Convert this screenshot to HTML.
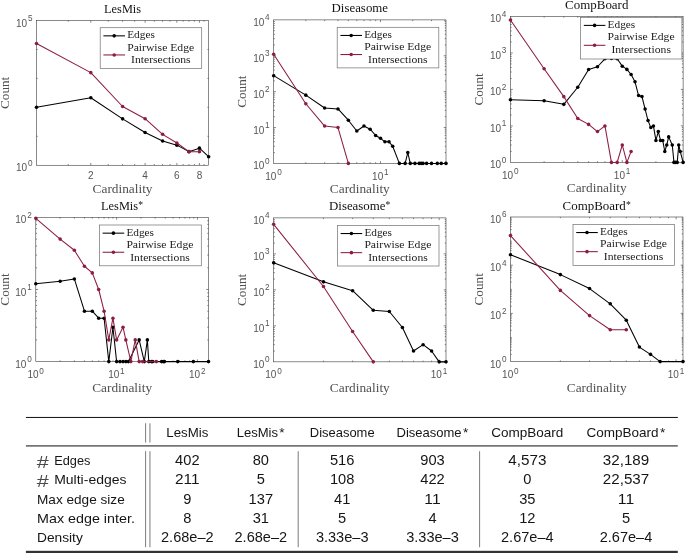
<!DOCTYPE html>
<html><head><meta charset="utf-8"><title>Figure</title>
<style>html,body{margin:0;padding:0;background:#fff}svg{display:block;will-change:transform}</style></head>
<body>
<svg width="685" height="553" viewBox="0 0 685 553">
<style>
text{font-family:"Liberation Sans",sans-serif}
.tk{font-size:10px;fill:#555}
.sp{font-size:8.2px;fill:#555}
.lg text,.tt,.ts,.al{font-family:"Liberation Serif",serif}
.lg text{font-size:11.3px;fill:#1a1a1a}
.tt{font-size:12.3px;fill:#111}
.ts{font-size:9.6px;fill:#111}
.al{font-size:12.3px;fill:#505050}
.tb{font-size:13.6px;fill:#151515}
.tn{font-size:14px;fill:#151515}
.tbs{font-size:9px;fill:#151515}
</style>
<rect width="685" height="553" fill="#fff"/>
<path d="M68.27 165.25v-1.25M68.27 20.50v1.25M90.81 165.25v-2.3M90.81 20.50v2.3M108.29 165.25v-1.25M108.29 20.50v1.25M122.58 165.25v-1.25M122.58 20.50v1.25M134.65 165.25v-1.25M134.65 20.50v1.25M145.11 165.25v-2.3M145.11 20.50v2.3M154.34 165.25v-1.25M154.34 20.50v1.25M162.60 165.25v-1.25M162.60 20.50v1.25M170.07 165.25v-1.25M170.07 20.50v1.25M176.88 165.25v-2.3M176.88 20.50v2.3M183.15 165.25v-1.25M183.15 20.50v1.25M188.96 165.25v-1.25M188.96 20.50v1.25M194.37 165.25v-1.25M194.37 20.50v1.25M199.42 165.25v-2.3M199.42 20.50v2.3M204.17 165.25v-1.25M204.17 20.50v1.25M36.50 136.30h1.25M208.65 136.30h-1.25M36.50 107.35h1.25M208.65 107.35h-1.25M36.50 78.40h1.25M208.65 78.40h-1.25M36.50 49.45h1.25M208.65 49.45h-1.25" stroke="#2a2a2a" stroke-width="0.55" fill="none"/>
<rect x="36.50" y="20.50" width="172.15" height="144.75" fill="none" stroke="#2a2a2a" stroke-width="0.55"/>
<polyline points="36.50,107.35 90.81,97.78 122.58,118.87 145.11,132.43 162.60,140.97 176.88,145.14 188.96,151.65 199.42,148.14 208.65,156.66" fill="none" stroke="#000" stroke-width="1.05" stroke-linejoin="round"/>
<g fill="#000"><circle cx="36.50" cy="107.35" r="1.78"/><circle cx="90.81" cy="97.78" r="1.78"/><circle cx="122.58" cy="118.87" r="1.78"/><circle cx="145.11" cy="132.43" r="1.78"/><circle cx="162.60" cy="140.97" r="1.78"/><circle cx="176.88" cy="145.14" r="1.78"/><circle cx="188.96" cy="151.65" r="1.78"/><circle cx="199.42" cy="148.14" r="1.78"/><circle cx="208.65" cy="156.66" r="1.78"/></g>
<polyline points="36.50,43.54 90.81,72.65 122.58,106.50 145.11,118.71 162.60,134.33 176.88,143.04 188.96,151.65 199.42,151.65" fill="none" stroke="#8c1d40" stroke-width="1.05" stroke-linejoin="round"/>
<g fill="#8c1d40"><circle cx="36.50" cy="43.54" r="1.78"/><circle cx="90.81" cy="72.65" r="1.78"/><circle cx="122.58" cy="106.50" r="1.78"/><circle cx="145.11" cy="118.71" r="1.78"/><circle cx="162.60" cy="134.33" r="1.78"/><circle cx="176.88" cy="143.04" r="1.78"/><circle cx="188.96" cy="151.65" r="1.78"/><circle cx="199.42" cy="151.65" r="1.78"/></g>
<rect x="100.20" y="27.70" width="101.50" height="40.70" fill="#fff" stroke="#707070" stroke-width="0.7"/>
<path d="M103.40 35.85h21.6" stroke="#000" stroke-width="1.05"/><circle cx="114.20" cy="35.85" r="1.78" fill="#000"/>
<path d="M103.40 54.95h21.6" stroke="#8c1d40" stroke-width="1.05"/><circle cx="114.20" cy="54.95" r="1.78" fill="#8c1d40"/>
<g class="lg"><text x="127.20" y="38.30" textLength="27.6" lengthAdjust="spacingAndGlyphs">Edges</text><text x="127.20" y="50.70" textLength="67" lengthAdjust="spacingAndGlyphs">Pairwise Edge</text><text x="131.00" y="63.30" textLength="59.6" lengthAdjust="spacingAndGlyphs">Intersections</text></g>
<text class="tk" x="27.10" y="171.25" text-anchor="end">10</text><text class="sp" x="27.90" y="165.65">0</text>
<text class="tk" x="27.10" y="26.50" text-anchor="end">10</text><text class="sp" x="27.90" y="20.90">5</text>
<text class="tk" x="90.81" y="178.95" text-anchor="middle">2</text>
<text class="tk" x="145.11" y="178.95" text-anchor="middle">4</text>
<text class="tk" x="176.88" y="178.95" text-anchor="middle">6</text>
<text class="tk" x="199.42" y="178.95" text-anchor="middle">8</text>
<text class="tt" x="104.08" y="13.10" textLength="37" lengthAdjust="spacingAndGlyphs">LesMis</text>
<text class="al" x="92.62" y="192.80" textLength="59.9" lengthAdjust="spacingAndGlyphs">Cardinality</text>
<text class="al" transform="translate(8.50 109.03) rotate(-90)" textLength="32.3" lengthAdjust="spacingAndGlyphs">Count</text>
<path d="M305.82 163.40v-1.25M305.82 19.90v1.25M324.64 163.40v-1.25M324.64 19.90v1.25M337.99 163.40v-1.25M337.99 19.90v1.25M348.35 163.40v-1.25M348.35 19.90v1.25M356.81 163.40v-1.25M356.81 19.90v1.25M363.96 163.40v-1.25M363.96 19.90v1.25M370.16 163.40v-1.25M370.16 19.90v1.25M375.63 163.40v-1.25M375.63 19.90v1.25M380.51 163.40v-2.3M380.51 19.90v2.3M412.68 163.40v-1.25M412.68 19.90v1.25M431.50 163.40v-1.25M431.50 19.90v1.25M444.85 163.40v-1.25M444.85 19.90v1.25M273.65 152.60h1.25M446.00 152.60h-1.25M273.65 146.28h1.25M446.00 146.28h-1.25M273.65 141.80h1.25M446.00 141.80h-1.25M273.65 138.32h1.25M446.00 138.32h-1.25M273.65 135.48h1.25M446.00 135.48h-1.25M273.65 133.08h1.25M446.00 133.08h-1.25M273.65 131.00h1.25M446.00 131.00h-1.25M273.65 129.17h1.25M446.00 129.17h-1.25M273.65 127.53h2.3M446.00 127.53h-2.3M273.65 116.73h1.25M446.00 116.73h-1.25M273.65 110.41h1.25M446.00 110.41h-1.25M273.65 105.93h1.25M446.00 105.93h-1.25M273.65 102.45h1.25M446.00 102.45h-1.25M273.65 99.61h1.25M446.00 99.61h-1.25M273.65 97.21h1.25M446.00 97.21h-1.25M273.65 95.13h1.25M446.00 95.13h-1.25M273.65 93.29h1.25M446.00 93.29h-1.25M273.65 91.65h2.3M446.00 91.65h-2.3M273.65 80.85h1.25M446.00 80.85h-1.25M273.65 74.53h1.25M446.00 74.53h-1.25M273.65 70.05h1.25M446.00 70.05h-1.25M273.65 66.57h1.25M446.00 66.57h-1.25M273.65 63.73h1.25M446.00 63.73h-1.25M273.65 61.33h1.25M446.00 61.33h-1.25M273.65 59.25h1.25M446.00 59.25h-1.25M273.65 57.42h1.25M446.00 57.42h-1.25M273.65 55.78h2.3M446.00 55.78h-2.3M273.65 44.98h1.25M446.00 44.98h-1.25M273.65 38.66h1.25M446.00 38.66h-1.25M273.65 34.18h1.25M446.00 34.18h-1.25M273.65 30.70h1.25M446.00 30.70h-1.25M273.65 27.86h1.25M446.00 27.86h-1.25M273.65 25.46h1.25M446.00 25.46h-1.25M273.65 23.38h1.25M446.00 23.38h-1.25M273.65 21.54h1.25M446.00 21.54h-1.25" stroke="#2a2a2a" stroke-width="0.55" fill="none"/>
<rect x="273.65" y="19.90" width="172.35" height="143.50" fill="none" stroke="#2a2a2a" stroke-width="0.55"/>
<polyline points="273.65,75.66 305.82,95.13 324.64,108.01 337.99,108.92 348.35,120.20 356.81,131.00 363.96,126.04 370.16,129.17 375.63,135.48 380.51,138.32 384.94,141.80 388.98,141.80 392.69,146.28 399.33,163.40 405.14,163.40 407.79,152.60 410.30,163.40 414.95,163.40 419.17,163.40 421.15,163.40 423.04,163.40 426.61,163.40 431.50,163.40 437.31,163.40 441.24,163.40 446.00,163.40" fill="none" stroke="#000" stroke-width="1.05" stroke-linejoin="round"/>
<g fill="#000"><circle cx="273.65" cy="75.66" r="1.78"/><circle cx="305.82" cy="95.13" r="1.78"/><circle cx="324.64" cy="108.01" r="1.78"/><circle cx="337.99" cy="108.92" r="1.78"/><circle cx="348.35" cy="120.20" r="1.78"/><circle cx="356.81" cy="131.00" r="1.78"/><circle cx="363.96" cy="126.04" r="1.78"/><circle cx="370.16" cy="129.17" r="1.78"/><circle cx="375.63" cy="135.48" r="1.78"/><circle cx="380.51" cy="138.32" r="1.78"/><circle cx="384.94" cy="141.80" r="1.78"/><circle cx="388.98" cy="141.80" r="1.78"/><circle cx="392.69" cy="146.28" r="1.78"/><circle cx="399.33" cy="163.40" r="1.78"/><circle cx="405.14" cy="163.40" r="1.78"/><circle cx="407.79" cy="152.60" r="1.78"/><circle cx="410.30" cy="163.40" r="1.78"/><circle cx="414.95" cy="163.40" r="1.78"/><circle cx="419.17" cy="163.40" r="1.78"/><circle cx="421.15" cy="163.40" r="1.78"/><circle cx="423.04" cy="163.40" r="1.78"/><circle cx="426.61" cy="163.40" r="1.78"/><circle cx="431.50" cy="163.40" r="1.78"/><circle cx="437.31" cy="163.40" r="1.78"/><circle cx="441.24" cy="163.40" r="1.78"/><circle cx="446.00" cy="163.40" r="1.78"/></g>
<polyline points="273.65,54.29 305.82,103.75 324.64,126.04 337.99,127.53 348.35,163.40" fill="none" stroke="#8c1d40" stroke-width="1.05" stroke-linejoin="round"/>
<g fill="#8c1d40"><circle cx="273.65" cy="54.29" r="1.78"/><circle cx="305.82" cy="103.75" r="1.78"/><circle cx="324.64" cy="126.04" r="1.78"/><circle cx="337.99" cy="127.53" r="1.78"/><circle cx="348.35" cy="163.40" r="1.78"/></g>
<rect x="337.20" y="27.30" width="101.60" height="40.60" fill="#fff" stroke="#707070" stroke-width="0.7"/>
<path d="M340.40 35.45h21.6" stroke="#000" stroke-width="1.05"/><circle cx="351.20" cy="35.45" r="1.78" fill="#000"/>
<path d="M340.40 54.55h21.6" stroke="#8c1d40" stroke-width="1.05"/><circle cx="351.20" cy="54.55" r="1.78" fill="#8c1d40"/>
<g class="lg"><text x="364.20" y="37.90" textLength="27.6" lengthAdjust="spacingAndGlyphs">Edges</text><text x="364.20" y="50.30" textLength="67" lengthAdjust="spacingAndGlyphs">Pairwise Edge</text><text x="368.00" y="62.90" textLength="59.6" lengthAdjust="spacingAndGlyphs">Intersections</text></g>
<text class="tk" x="264.25" y="169.40" text-anchor="end">10</text><text class="sp" x="265.05" y="163.80">0</text>
<text class="tk" x="264.25" y="133.53" text-anchor="end">10</text><text class="sp" x="265.05" y="127.93">1</text>
<text class="tk" x="264.25" y="97.65" text-anchor="end">10</text><text class="sp" x="265.05" y="92.05">2</text>
<text class="tk" x="264.25" y="61.78" text-anchor="end">10</text><text class="sp" x="265.05" y="56.18">3</text>
<text class="tk" x="264.25" y="25.90" text-anchor="end">10</text><text class="sp" x="265.05" y="20.30">4</text>
<text class="tk" x="265.25" y="180.00">10</text><text class="sp" x="277.15" y="175.40">0</text>
<text class="tk" x="372.11" y="180.00">10</text><text class="sp" x="384.01" y="175.40">1</text>
<text class="tt" x="331.57" y="12.40" textLength="56.5" lengthAdjust="spacingAndGlyphs">Diseasome</text>
<text class="al" x="329.88" y="193.30" textLength="59.9" lengthAdjust="spacingAndGlyphs">Cardinality</text>
<text class="al" transform="translate(245.50 107.80) rotate(-90)" textLength="32.3" lengthAdjust="spacingAndGlyphs">Count</text>
<path d="M544.11 162.40v-1.25M544.11 16.45v1.25M563.80 162.40v-1.25M563.80 16.45v1.25M577.77 162.40v-1.25M577.77 16.45v1.25M588.61 162.40v-1.25M588.61 16.45v1.25M597.46 162.40v-1.25M597.46 16.45v1.25M604.94 162.40v-1.25M604.94 16.45v1.25M611.43 162.40v-1.25M611.43 16.45v1.25M617.15 162.40v-1.25M617.15 16.45v1.25M622.27 162.40v-2.3M622.27 16.45v2.3M655.92 162.40v-1.25M655.92 16.45v1.25M675.61 162.40v-1.25M675.61 16.45v1.25M510.45 151.42h1.25M683.10 151.42h-1.25M510.45 144.99h1.25M683.10 144.99h-1.25M510.45 140.43h1.25M683.10 140.43h-1.25M510.45 136.90h1.25M683.10 136.90h-1.25M510.45 134.01h1.25M683.10 134.01h-1.25M510.45 131.56h1.25M683.10 131.56h-1.25M510.45 129.45h1.25M683.10 129.45h-1.25M510.45 127.58h1.25M683.10 127.58h-1.25M510.45 125.91h2.3M683.10 125.91h-2.3M510.45 114.93h1.25M683.10 114.93h-1.25M510.45 108.50h1.25M683.10 108.50h-1.25M510.45 103.94h1.25M683.10 103.94h-1.25M510.45 100.41h1.25M683.10 100.41h-1.25M510.45 97.52h1.25M683.10 97.52h-1.25M510.45 95.08h1.25M683.10 95.08h-1.25M510.45 92.96h1.25M683.10 92.96h-1.25M510.45 91.09h1.25M683.10 91.09h-1.25M510.45 89.42h2.3M683.10 89.42h-2.3M510.45 78.44h1.25M683.10 78.44h-1.25M510.45 72.02h1.25M683.10 72.02h-1.25M510.45 67.46h1.25M683.10 67.46h-1.25M510.45 63.92h1.25M683.10 63.92h-1.25M510.45 61.03h1.25M683.10 61.03h-1.25M510.45 58.59h1.25M683.10 58.59h-1.25M510.45 56.47h1.25M683.10 56.47h-1.25M510.45 54.61h1.25M683.10 54.61h-1.25M510.45 52.94h2.3M683.10 52.94h-2.3M510.45 41.95h1.25M683.10 41.95h-1.25M510.45 35.53h1.25M683.10 35.53h-1.25M510.45 30.97h1.25M683.10 30.97h-1.25M510.45 27.43h1.25M683.10 27.43h-1.25M510.45 24.54h1.25M683.10 24.54h-1.25M510.45 22.10h1.25M683.10 22.10h-1.25M510.45 19.99h1.25M683.10 19.99h-1.25M510.45 18.12h1.25M683.10 18.12h-1.25" stroke="#2a2a2a" stroke-width="0.55" fill="none"/>
<rect x="510.45" y="16.45" width="172.65" height="145.95" fill="none" stroke="#2a2a2a" stroke-width="0.55"/>
<polyline points="510.45,99.79 544.11,100.73 563.80,104.35 577.77,87.21 588.61,69.57 597.46,66.76 604.94,58.82 611.43,58.59 617.15,58.82 622.27,66.16 626.89,69.39 631.12,74.53 635.01,81.78 638.60,95.54 641.95,96.50 645.09,109.04 648.03,120.58 650.81,127.58 653.43,125.91 655.92,140.43 658.29,131.56 660.55,140.43 662.71,140.43 664.78,151.42 666.76,144.99 668.67,136.90 672.26,144.99 673.97,162.40 675.61,162.40 677.21,162.40 678.75,144.99 680.24,151.42 683.10,162.40" fill="none" stroke="#000" stroke-width="1.05" stroke-linejoin="round"/>
<g fill="#000"><circle cx="510.45" cy="99.79" r="1.78"/><circle cx="544.11" cy="100.73" r="1.78"/><circle cx="563.80" cy="104.35" r="1.78"/><circle cx="577.77" cy="87.21" r="1.78"/><circle cx="588.61" cy="69.57" r="1.78"/><circle cx="597.46" cy="66.76" r="1.78"/><circle cx="604.94" cy="58.82" r="1.78"/><circle cx="611.43" cy="58.59" r="1.78"/><circle cx="617.15" cy="58.82" r="1.78"/><circle cx="622.27" cy="66.16" r="1.78"/><circle cx="626.89" cy="69.39" r="1.78"/><circle cx="631.12" cy="74.53" r="1.78"/><circle cx="635.01" cy="81.78" r="1.78"/><circle cx="638.60" cy="95.54" r="1.78"/><circle cx="641.95" cy="96.50" r="1.78"/><circle cx="645.09" cy="109.04" r="1.78"/><circle cx="648.03" cy="120.58" r="1.78"/><circle cx="650.81" cy="127.58" r="1.78"/><circle cx="653.43" cy="125.91" r="1.78"/><circle cx="655.92" cy="140.43" r="1.78"/><circle cx="658.29" cy="131.56" r="1.78"/><circle cx="660.55" cy="140.43" r="1.78"/><circle cx="662.71" cy="140.43" r="1.78"/><circle cx="664.78" cy="151.42" r="1.78"/><circle cx="666.76" cy="144.99" r="1.78"/><circle cx="668.67" cy="136.90" r="1.78"/><circle cx="672.26" cy="144.99" r="1.78"/><circle cx="673.97" cy="162.40" r="1.78"/><circle cx="675.61" cy="162.40" r="1.78"/><circle cx="677.21" cy="162.40" r="1.78"/><circle cx="678.75" cy="144.99" r="1.78"/><circle cx="680.24" cy="151.42" r="1.78"/><circle cx="683.10" cy="162.40" r="1.78"/></g>
<polyline points="510.45,19.99 544.11,68.78 563.80,96.65 577.77,118.46 588.61,124.40 597.46,131.56 604.94,125.91 611.43,162.40 617.15,162.40 622.27,144.99 626.89,162.40 631.12,151.42" fill="none" stroke="#8c1d40" stroke-width="1.05" stroke-linejoin="round"/>
<g fill="#8c1d40"><circle cx="510.45" cy="19.99" r="1.78"/><circle cx="544.11" cy="68.78" r="1.78"/><circle cx="563.80" cy="96.65" r="1.78"/><circle cx="577.77" cy="118.46" r="1.78"/><circle cx="588.61" cy="124.40" r="1.78"/><circle cx="597.46" cy="131.56" r="1.78"/><circle cx="604.94" cy="125.91" r="1.78"/><circle cx="611.43" cy="162.40" r="1.78"/><circle cx="617.15" cy="162.40" r="1.78"/><circle cx="622.27" cy="144.99" r="1.78"/><circle cx="626.89" cy="162.40" r="1.78"/><circle cx="631.12" cy="151.42" r="1.78"/></g>
<rect x="580.60" y="17.40" width="101.30" height="41.60" fill="#fff" stroke="#707070" stroke-width="0.7"/>
<path d="M583.80 25.40h21.6" stroke="#000" stroke-width="1.05"/><circle cx="594.60" cy="25.40" r="1.78" fill="#000"/>
<path d="M583.80 45.30h21.6" stroke="#8c1d40" stroke-width="1.05"/><circle cx="594.60" cy="45.30" r="1.78" fill="#8c1d40"/>
<g class="lg"><text x="607.60" y="28.20" textLength="27.6" lengthAdjust="spacingAndGlyphs">Edges</text><text x="607.60" y="40.00" textLength="67" lengthAdjust="spacingAndGlyphs">Pairwise Edge</text><text x="611.40" y="53.10" textLength="59.6" lengthAdjust="spacingAndGlyphs">Intersections</text></g>
<text class="tk" x="501.05" y="168.40" text-anchor="end">10</text><text class="sp" x="501.85" y="162.80">0</text>
<text class="tk" x="501.05" y="131.91" text-anchor="end">10</text><text class="sp" x="501.85" y="126.31">1</text>
<text class="tk" x="501.05" y="95.42" text-anchor="end">10</text><text class="sp" x="501.85" y="89.83">2</text>
<text class="tk" x="501.05" y="58.94" text-anchor="end">10</text><text class="sp" x="501.85" y="53.34">3</text>
<text class="tk" x="501.05" y="22.45" text-anchor="end">10</text><text class="sp" x="501.85" y="16.85">4</text>
<text class="tk" x="502.05" y="179.00">10</text><text class="sp" x="513.95" y="174.40">0</text>
<text class="tk" x="613.87" y="179.00">10</text><text class="sp" x="625.77" y="174.40">1</text>
<text class="tt" x="565.12" y="9.40" textLength="63.3" lengthAdjust="spacingAndGlyphs">CompBoard</text>
<text class="al" x="566.82" y="192.30" textLength="59.9" lengthAdjust="spacingAndGlyphs">Cardinality</text>
<text class="al" transform="translate(482.50 105.57) rotate(-90)" textLength="32.3" lengthAdjust="spacingAndGlyphs">Count</text>
<path d="M60.13 361.60v-1.25M60.13 217.40v1.25M74.36 361.60v-1.25M74.36 217.40v1.25M84.46 361.60v-1.25M84.46 217.40v1.25M92.29 361.60v-1.25M92.29 217.40v1.25M98.69 361.60v-1.25M98.69 217.40v1.25M104.10 361.60v-1.25M104.10 217.40v1.25M108.79 361.60v-1.25M108.79 217.40v1.25M112.93 361.60v-1.25M112.93 217.40v1.25M116.62 361.60v-2.3M116.62 217.40v2.3M140.96 361.60v-1.25M140.96 217.40v1.25M155.19 361.60v-1.25M155.19 217.40v1.25M165.29 361.60v-1.25M165.29 217.40v1.25M173.12 361.60v-1.25M173.12 217.40v1.25M179.52 361.60v-1.25M179.52 217.40v1.25M184.93 361.60v-1.25M184.93 217.40v1.25M189.62 361.60v-1.25M189.62 217.40v1.25M193.75 361.60v-1.25M193.75 217.40v1.25M197.45 361.60v-2.3M197.45 217.40v2.3M35.80 339.90h1.25M208.50 339.90h-1.25M35.80 327.20h1.25M208.50 327.20h-1.25M35.80 318.19h1.25M208.50 318.19h-1.25M35.80 311.20h1.25M208.50 311.20h-1.25M35.80 305.50h1.25M208.50 305.50h-1.25M35.80 300.67h1.25M208.50 300.67h-1.25M35.80 296.49h1.25M208.50 296.49h-1.25M35.80 292.80h1.25M208.50 292.80h-1.25M35.80 289.50h2.3M208.50 289.50h-2.3M35.80 267.80h1.25M208.50 267.80h-1.25M35.80 255.10h1.25M208.50 255.10h-1.25M35.80 246.09h1.25M208.50 246.09h-1.25M35.80 239.10h1.25M208.50 239.10h-1.25M35.80 233.40h1.25M208.50 233.40h-1.25M35.80 228.57h1.25M208.50 228.57h-1.25M35.80 224.39h1.25M208.50 224.39h-1.25M35.80 220.70h1.25M208.50 220.70h-1.25" stroke="#2a2a2a" stroke-width="0.55" fill="none"/>
<rect x="35.80" y="217.40" width="172.70" height="144.20" fill="none" stroke="#2a2a2a" stroke-width="0.55"/>
<polyline points="35.80,283.79 60.13,281.28 74.36,278.96 84.46,311.20 92.29,311.20 98.69,318.19 104.10,318.19 108.79,361.60 112.93,327.20 116.62,361.60 119.97,361.60 123.02,361.60 125.83,361.60 128.44,361.60 139.15,339.90 144.30,361.60 147.36,339.90 148.79,361.60 151.49,361.60 152.77,361.60 161.59,361.60 163.49,361.60 164.40,361.60 177.72,361.60 193.36,361.60 208.50,361.60" fill="none" stroke="#000" stroke-width="1.05" stroke-linejoin="round"/>
<g fill="#000"><circle cx="35.80" cy="283.79" r="1.78"/><circle cx="60.13" cy="281.28" r="1.78"/><circle cx="74.36" cy="278.96" r="1.78"/><circle cx="84.46" cy="311.20" r="1.78"/><circle cx="92.29" cy="311.20" r="1.78"/><circle cx="98.69" cy="318.19" r="1.78"/><circle cx="104.10" cy="318.19" r="1.78"/><circle cx="108.79" cy="361.60" r="1.78"/><circle cx="112.93" cy="327.20" r="1.78"/><circle cx="116.62" cy="361.60" r="1.78"/><circle cx="119.97" cy="361.60" r="1.78"/><circle cx="123.02" cy="361.60" r="1.78"/><circle cx="125.83" cy="361.60" r="1.78"/><circle cx="128.44" cy="361.60" r="1.78"/><circle cx="139.15" cy="339.90" r="1.78"/><circle cx="144.30" cy="361.60" r="1.78"/><circle cx="147.36" cy="339.90" r="1.78"/><circle cx="148.79" cy="361.60" r="1.78"/><circle cx="151.49" cy="361.60" r="1.78"/><circle cx="152.77" cy="361.60" r="1.78"/><circle cx="161.59" cy="361.60" r="1.78"/><circle cx="163.49" cy="361.60" r="1.78"/><circle cx="164.40" cy="361.60" r="1.78"/><circle cx="177.72" cy="361.60" r="1.78"/><circle cx="193.36" cy="361.60" r="1.78"/><circle cx="208.50" cy="361.60" r="1.78"/></g>
<polyline points="35.80,218.35 60.13,239.10 74.36,250.27 84.46,266.27 92.29,272.88 98.69,289.50 104.10,311.20 108.79,339.90 112.93,318.19 116.62,339.90 123.02,327.20 125.83,339.90 130.86,361.60 135.25,339.90 139.15,361.60 142.67,361.60 156.34,361.60" fill="none" stroke="#8c1d40" stroke-width="1.05" stroke-linejoin="round"/>
<g fill="#8c1d40"><circle cx="35.80" cy="218.35" r="1.78"/><circle cx="60.13" cy="239.10" r="1.78"/><circle cx="74.36" cy="250.27" r="1.78"/><circle cx="84.46" cy="266.27" r="1.78"/><circle cx="92.29" cy="272.88" r="1.78"/><circle cx="98.69" cy="289.50" r="1.78"/><circle cx="104.10" cy="311.20" r="1.78"/><circle cx="108.79" cy="339.90" r="1.78"/><circle cx="112.93" cy="318.19" r="1.78"/><circle cx="116.62" cy="339.90" r="1.78"/><circle cx="123.02" cy="327.20" r="1.78"/><circle cx="125.83" cy="339.90" r="1.78"/><circle cx="130.86" cy="361.60" r="1.78"/><circle cx="135.25" cy="339.90" r="1.78"/><circle cx="139.15" cy="361.60" r="1.78"/><circle cx="142.67" cy="361.60" r="1.78"/><circle cx="156.34" cy="361.60" r="1.78"/></g>
<rect x="99.40" y="225.00" width="101.90" height="40.80" fill="#fff" stroke="#707070" stroke-width="0.7"/>
<path d="M102.60 233.15h21.6" stroke="#000" stroke-width="1.05"/><circle cx="113.40" cy="233.15" r="1.78" fill="#000"/>
<path d="M102.60 252.25h21.6" stroke="#8c1d40" stroke-width="1.05"/><circle cx="113.40" cy="252.25" r="1.78" fill="#8c1d40"/>
<g class="lg"><text x="126.40" y="235.60" textLength="27.6" lengthAdjust="spacingAndGlyphs">Edges</text><text x="126.40" y="248.00" textLength="67" lengthAdjust="spacingAndGlyphs">Pairwise Edge</text><text x="130.20" y="260.60" textLength="59.6" lengthAdjust="spacingAndGlyphs">Intersections</text></g>
<text class="tk" x="26.40" y="367.60" text-anchor="end">10</text><text class="sp" x="27.20" y="362.00">0</text>
<text class="tk" x="26.40" y="295.50" text-anchor="end">10</text><text class="sp" x="27.20" y="289.90">1</text>
<text class="tk" x="26.40" y="223.40" text-anchor="end">10</text><text class="sp" x="27.20" y="217.80">2</text>
<text class="tk" x="27.40" y="378.20">10</text><text class="sp" x="39.30" y="373.60">0</text>
<text class="tk" x="108.22" y="378.20">10</text><text class="sp" x="120.12" y="373.60">1</text>
<text class="tk" x="189.05" y="378.20">10</text><text class="sp" x="200.95" y="373.60">2</text>
<text class="tt" x="101.10" y="210.00" textLength="37" lengthAdjust="spacingAndGlyphs">LesMis</text><text class="ts" x="138.20" y="207.90">*</text>
<text class="al" x="92.20" y="391.50" textLength="59.9" lengthAdjust="spacingAndGlyphs">Cardinality</text>
<text class="al" transform="translate(8.50 305.65) rotate(-90)" textLength="32.3" lengthAdjust="spacingAndGlyphs">Count</text>
<path d="M323.47 361.85v-1.25M323.47 217.90v1.25M352.61 361.85v-1.25M352.61 217.90v1.25M373.29 361.85v-1.25M373.29 217.90v1.25M389.33 361.85v-1.25M389.33 217.90v1.25M402.43 361.85v-1.25M402.43 217.90v1.25M413.51 361.85v-1.25M413.51 217.90v1.25M423.11 361.85v-1.25M423.11 217.90v1.25M431.58 361.85v-1.25M431.58 217.90v1.25M439.15 361.85v-2.3M439.15 217.90v2.3M273.65 351.02h1.25M446.00 351.02h-1.25M273.65 344.68h1.25M446.00 344.68h-1.25M273.65 340.18h1.25M446.00 340.18h-1.25M273.65 336.70h1.25M446.00 336.70h-1.25M273.65 333.85h1.25M446.00 333.85h-1.25M273.65 331.44h1.25M446.00 331.44h-1.25M273.65 329.35h1.25M446.00 329.35h-1.25M273.65 327.51h1.25M446.00 327.51h-1.25M273.65 325.86h2.3M446.00 325.86h-2.3M273.65 315.03h1.25M446.00 315.03h-1.25M273.65 308.69h1.25M446.00 308.69h-1.25M273.65 304.20h1.25M446.00 304.20h-1.25M273.65 300.71h1.25M446.00 300.71h-1.25M273.65 297.86h1.25M446.00 297.86h-1.25M273.65 295.45h1.25M446.00 295.45h-1.25M273.65 293.36h1.25M446.00 293.36h-1.25M273.65 291.52h1.25M446.00 291.52h-1.25M273.65 289.88h2.3M446.00 289.88h-2.3M273.65 279.04h1.25M446.00 279.04h-1.25M273.65 272.70h1.25M446.00 272.70h-1.25M273.65 268.21h1.25M446.00 268.21h-1.25M273.65 264.72h1.25M446.00 264.72h-1.25M273.65 261.87h1.25M446.00 261.87h-1.25M273.65 259.46h1.25M446.00 259.46h-1.25M273.65 257.38h1.25M446.00 257.38h-1.25M273.65 255.53h1.25M446.00 255.53h-1.25M273.65 253.89h2.3M446.00 253.89h-2.3M273.65 243.05h1.25M446.00 243.05h-1.25M273.65 236.72h1.25M446.00 236.72h-1.25M273.65 232.22h1.25M446.00 232.22h-1.25M273.65 228.73h1.25M446.00 228.73h-1.25M273.65 225.88h1.25M446.00 225.88h-1.25M273.65 223.47h1.25M446.00 223.47h-1.25M273.65 221.39h1.25M446.00 221.39h-1.25M273.65 219.55h1.25M446.00 219.55h-1.25" stroke="#2a2a2a" stroke-width="0.55" fill="none"/>
<rect x="273.65" y="217.90" width="172.35" height="143.95" fill="none" stroke="#2a2a2a" stroke-width="0.55"/>
<polyline points="273.65,262.67 323.47,281.86 352.61,290.68 373.29,310.34 389.33,311.54 402.43,327.51 413.51,351.02 423.11,344.68 431.58,351.02 439.15,361.85 446.00,361.85" fill="none" stroke="#000" stroke-width="1.05" stroke-linejoin="round"/>
<g fill="#000"><circle cx="273.65" cy="262.67" r="1.78"/><circle cx="323.47" cy="281.86" r="1.78"/><circle cx="352.61" cy="290.68" r="1.78"/><circle cx="373.29" cy="310.34" r="1.78"/><circle cx="389.33" cy="311.54" r="1.78"/><circle cx="402.43" cy="327.51" r="1.78"/><circle cx="413.51" cy="351.02" r="1.78"/><circle cx="423.11" cy="344.68" r="1.78"/><circle cx="431.58" cy="351.02" r="1.78"/><circle cx="439.15" cy="361.85" r="1.78"/><circle cx="446.00" cy="361.85" r="1.78"/></g>
<polyline points="273.65,224.30 323.47,286.51 352.61,331.44 373.29,361.85" fill="none" stroke="#8c1d40" stroke-width="1.05" stroke-linejoin="round"/>
<g fill="#8c1d40"><circle cx="273.65" cy="224.30" r="1.78"/><circle cx="323.47" cy="286.51" r="1.78"/><circle cx="352.61" cy="331.44" r="1.78"/><circle cx="373.29" cy="361.85" r="1.78"/></g>
<rect x="337.40" y="225.40" width="101.60" height="40.60" fill="#fff" stroke="#707070" stroke-width="0.7"/>
<path d="M340.60 233.55h21.6" stroke="#000" stroke-width="1.05"/><circle cx="351.40" cy="233.55" r="1.78" fill="#000"/>
<path d="M340.60 252.65h21.6" stroke="#8c1d40" stroke-width="1.05"/><circle cx="351.40" cy="252.65" r="1.78" fill="#8c1d40"/>
<g class="lg"><text x="364.40" y="236.00" textLength="27.6" lengthAdjust="spacingAndGlyphs">Edges</text><text x="364.40" y="248.40" textLength="67" lengthAdjust="spacingAndGlyphs">Pairwise Edge</text><text x="368.20" y="261.00" textLength="59.6" lengthAdjust="spacingAndGlyphs">Intersections</text></g>
<text class="tk" x="264.25" y="367.85" text-anchor="end">10</text><text class="sp" x="265.05" y="362.25">0</text>
<text class="tk" x="264.25" y="331.86" text-anchor="end">10</text><text class="sp" x="265.05" y="326.26">1</text>
<text class="tk" x="264.25" y="295.88" text-anchor="end">10</text><text class="sp" x="265.05" y="290.27">2</text>
<text class="tk" x="264.25" y="259.89" text-anchor="end">10</text><text class="sp" x="265.05" y="254.29">3</text>
<text class="tk" x="264.25" y="223.90" text-anchor="end">10</text><text class="sp" x="265.05" y="218.30">4</text>
<text class="tk" x="265.25" y="378.45">10</text><text class="sp" x="277.15" y="373.85">0</text>
<text class="tk" x="430.75" y="378.45">10</text><text class="sp" x="442.65" y="373.85">1</text>
<text class="tt" x="329.02" y="210.00" textLength="56.5" lengthAdjust="spacingAndGlyphs">Diseasome</text><text class="ts" x="385.62" y="207.90">*</text>
<text class="al" x="329.88" y="391.50" textLength="59.9" lengthAdjust="spacingAndGlyphs">Cardinality</text>
<text class="al" transform="translate(245.50 306.02) rotate(-90)" textLength="32.3" lengthAdjust="spacingAndGlyphs">Count</text>
<path d="M560.36 361.60v-1.25M560.36 217.00v1.25M589.53 361.60v-1.25M589.53 217.00v1.25M610.23 361.60v-1.25M610.23 217.00v1.25M626.28 361.60v-1.25M626.28 217.00v1.25M639.40 361.60v-1.25M639.40 217.00v1.25M650.49 361.60v-1.25M650.49 217.00v1.25M660.09 361.60v-1.25M660.09 217.00v1.25M668.56 361.60v-1.25M668.56 217.00v1.25M676.14 361.60v-2.3M676.14 217.00v2.3M510.50 354.35h1.25M683.00 354.35h-1.25M510.50 350.10h1.25M683.00 350.10h-1.25M510.50 347.09h1.25M683.00 347.09h-1.25M510.50 344.75h1.25M683.00 344.75h-1.25M510.50 342.85h1.25M683.00 342.85h-1.25M510.50 341.23h1.25M683.00 341.23h-1.25M510.50 339.84h1.25M683.00 339.84h-1.25M510.50 338.60h1.25M683.00 338.60h-1.25M510.50 337.50h1.25M683.00 337.50h-1.25M510.50 330.25h1.25M683.00 330.25h-1.25M510.50 326.00h1.25M683.00 326.00h-1.25M510.50 322.99h1.25M683.00 322.99h-1.25M510.50 320.65h1.25M683.00 320.65h-1.25M510.50 318.75h1.25M683.00 318.75h-1.25M510.50 317.13h1.25M683.00 317.13h-1.25M510.50 315.74h1.25M683.00 315.74h-1.25M510.50 314.50h1.25M683.00 314.50h-1.25M510.50 313.40h2.3M683.00 313.40h-2.3M510.50 306.15h1.25M683.00 306.15h-1.25M510.50 301.90h1.25M683.00 301.90h-1.25M510.50 298.89h1.25M683.00 298.89h-1.25M510.50 296.55h1.25M683.00 296.55h-1.25M510.50 294.65h1.25M683.00 294.65h-1.25M510.50 293.03h1.25M683.00 293.03h-1.25M510.50 291.64h1.25M683.00 291.64h-1.25M510.50 290.40h1.25M683.00 290.40h-1.25M510.50 289.30h1.25M683.00 289.30h-1.25M510.50 282.05h1.25M683.00 282.05h-1.25M510.50 277.80h1.25M683.00 277.80h-1.25M510.50 274.79h1.25M683.00 274.79h-1.25M510.50 272.45h1.25M683.00 272.45h-1.25M510.50 270.55h1.25M683.00 270.55h-1.25M510.50 268.93h1.25M683.00 268.93h-1.25M510.50 267.54h1.25M683.00 267.54h-1.25M510.50 266.30h1.25M683.00 266.30h-1.25M510.50 265.20h2.3M683.00 265.20h-2.3M510.50 257.95h1.25M683.00 257.95h-1.25M510.50 253.70h1.25M683.00 253.70h-1.25M510.50 250.69h1.25M683.00 250.69h-1.25M510.50 248.35h1.25M683.00 248.35h-1.25M510.50 246.45h1.25M683.00 246.45h-1.25M510.50 244.83h1.25M683.00 244.83h-1.25M510.50 243.44h1.25M683.00 243.44h-1.25M510.50 242.20h1.25M683.00 242.20h-1.25M510.50 241.10h1.25M683.00 241.10h-1.25M510.50 233.85h1.25M683.00 233.85h-1.25M510.50 229.60h1.25M683.00 229.60h-1.25M510.50 226.59h1.25M683.00 226.59h-1.25M510.50 224.25h1.25M683.00 224.25h-1.25M510.50 222.35h1.25M683.00 222.35h-1.25M510.50 220.73h1.25M683.00 220.73h-1.25M510.50 219.34h1.25M683.00 219.34h-1.25M510.50 218.10h1.25M683.00 218.10h-1.25" stroke="#2a2a2a" stroke-width="0.55" fill="none"/>
<rect x="510.50" y="217.00" width="172.50" height="144.60" fill="none" stroke="#2a2a2a" stroke-width="0.55"/>
<polyline points="510.50,254.80 560.36,274.60 589.53,288.59 610.23,303.81 626.28,320.24 639.40,347.09 650.49,354.35 660.09,361.60 683.00,361.60" fill="none" stroke="#000" stroke-width="1.05" stroke-linejoin="round"/>
<g fill="#000"><circle cx="510.50" cy="254.80" r="1.78"/><circle cx="560.36" cy="274.60" r="1.78"/><circle cx="589.53" cy="288.59" r="1.78"/><circle cx="610.23" cy="303.81" r="1.78"/><circle cx="626.28" cy="320.24" r="1.78"/><circle cx="639.40" cy="347.09" r="1.78"/><circle cx="650.49" cy="354.35" r="1.78"/><circle cx="660.09" cy="361.60" r="1.78"/><circle cx="683.00" cy="361.60" r="1.78"/></g>
<polyline points="510.50,235.61 560.36,290.40 589.53,315.61 610.23,329.73 626.28,329.73" fill="none" stroke="#8c1d40" stroke-width="1.05" stroke-linejoin="round"/>
<g fill="#8c1d40"><circle cx="510.50" cy="235.61" r="1.78"/><circle cx="560.36" cy="290.40" r="1.78"/><circle cx="589.53" cy="315.61" r="1.78"/><circle cx="610.23" cy="329.73" r="1.78"/><circle cx="626.28" cy="329.73" r="1.78"/></g>
<rect x="573.00" y="224.40" width="101.60" height="41.20" fill="#fff" stroke="#707070" stroke-width="0.7"/>
<path d="M576.20 232.55h21.6" stroke="#000" stroke-width="1.05"/><circle cx="587.00" cy="232.55" r="1.78" fill="#000"/>
<path d="M576.20 251.65h21.6" stroke="#8c1d40" stroke-width="1.05"/><circle cx="587.00" cy="251.65" r="1.78" fill="#8c1d40"/>
<g class="lg"><text x="600.00" y="235.00" textLength="27.6" lengthAdjust="spacingAndGlyphs">Edges</text><text x="600.00" y="247.40" textLength="67" lengthAdjust="spacingAndGlyphs">Pairwise Edge</text><text x="603.80" y="260.00" textLength="59.6" lengthAdjust="spacingAndGlyphs">Intersections</text></g>
<text class="tk" x="501.10" y="367.60" text-anchor="end">10</text><text class="sp" x="501.90" y="362.00">0</text>
<text class="tk" x="501.10" y="319.40" text-anchor="end">10</text><text class="sp" x="501.90" y="313.80">2</text>
<text class="tk" x="501.10" y="271.20" text-anchor="end">10</text><text class="sp" x="501.90" y="265.60">4</text>
<text class="tk" x="501.10" y="223.00" text-anchor="end">10</text><text class="sp" x="501.90" y="217.40">6</text>
<text class="tk" x="502.10" y="378.20">10</text><text class="sp" x="514.00" y="373.60">0</text>
<text class="tk" x="667.74" y="378.20">10</text><text class="sp" x="679.64" y="373.60">1</text>
<text class="tt" x="562.55" y="210.00" textLength="63.3" lengthAdjust="spacingAndGlyphs">CompBoard</text><text class="ts" x="625.95" y="207.90">*</text>
<text class="al" x="566.80" y="391.50" textLength="59.9" lengthAdjust="spacingAndGlyphs">Cardinality</text>
<text class="al" transform="translate(482.50 305.45) rotate(-90)" textLength="32.3" lengthAdjust="spacingAndGlyphs">Count</text>
<rect x="25.9" y="416.95" width="651.9" height="1.0" fill="#111"/>
<rect x="25.9" y="445.4" width="651.9" height="1.05" fill="#1c1c1c"/>
<rect x="25.9" y="550.8" width="651.9" height="2.4" fill="#333"/>
<path d="M145.6 423.3V442.5M149.95 423.3V442.5M145.6 451.2V547.2M149.95 451.2V547.2M298.2 451.2V547.2M479.6 451.2V547.2" stroke="#222" stroke-width="0.6" fill="none"/>
<text class="tb" x="36.8" y="467.5" textLength="12.0" lengthAdjust="spacingAndGlyphs" style="fill:#4a4a4a;font-size:17.2px">#</text>
<text class="tb" x="54.2" y="464.9" textLength="36.2" lengthAdjust="spacingAndGlyphs">Edges</text>
<text class="tn" x="175.08" y="464.9" textLength="24.45" lengthAdjust="spacingAndGlyphs">402</text>
<text class="tn" x="252.65" y="464.9" textLength="16.30" lengthAdjust="spacingAndGlyphs">80</text>
<text class="tn" x="329.97" y="464.9" textLength="24.45" lengthAdjust="spacingAndGlyphs">516</text>
<text class="tn" x="420.27" y="464.9" textLength="24.45" lengthAdjust="spacingAndGlyphs">903</text>
<text class="tn" x="508.20" y="464.9" textLength="38.20" lengthAdjust="spacingAndGlyphs">4,573</text>
<text class="tn" x="602.83" y="464.9" textLength="46.35" lengthAdjust="spacingAndGlyphs">32,189</text>
<text class="tb" x="36.8" y="486.8" textLength="12.0" lengthAdjust="spacingAndGlyphs" style="fill:#4a4a4a;font-size:17.2px">#</text>
<text class="tb" x="54.2" y="484.2" textLength="72.3" lengthAdjust="spacingAndGlyphs">Multi-edges</text>
<text class="tn" x="175.08" y="484.2" textLength="24.45" lengthAdjust="spacingAndGlyphs">211</text>
<text class="tn" x="256.73" y="484.2" textLength="8.15" lengthAdjust="spacingAndGlyphs">5</text>
<text class="tn" x="329.97" y="484.2" textLength="24.45" lengthAdjust="spacingAndGlyphs">108</text>
<text class="tn" x="420.27" y="484.2" textLength="24.45" lengthAdjust="spacingAndGlyphs">422</text>
<text class="tn" x="523.22" y="484.2" textLength="8.15" lengthAdjust="spacingAndGlyphs">0</text>
<text class="tn" x="602.83" y="484.2" textLength="46.35" lengthAdjust="spacingAndGlyphs">22,537</text>
<text class="tb" x="37.0" y="503.5" textLength="87.7" lengthAdjust="spacingAndGlyphs">Max edge size</text>
<text class="tn" x="183.23" y="503.5" textLength="8.15" lengthAdjust="spacingAndGlyphs">9</text>
<text class="tn" x="248.58" y="503.5" textLength="24.45" lengthAdjust="spacingAndGlyphs">137</text>
<text class="tn" x="334.05" y="503.5" textLength="16.30" lengthAdjust="spacingAndGlyphs">41</text>
<text class="tn" x="424.35" y="503.5" textLength="16.30" lengthAdjust="spacingAndGlyphs">11</text>
<text class="tn" x="519.15" y="503.5" textLength="16.30" lengthAdjust="spacingAndGlyphs">35</text>
<text class="tn" x="617.85" y="503.5" textLength="16.30" lengthAdjust="spacingAndGlyphs">11</text>
<text class="tb" x="37.0" y="522.9" textLength="97.9" lengthAdjust="spacingAndGlyphs">Max edge inter.</text>
<text class="tn" x="183.23" y="522.9" textLength="8.15" lengthAdjust="spacingAndGlyphs">8</text>
<text class="tn" x="252.65" y="522.9" textLength="16.30" lengthAdjust="spacingAndGlyphs">31</text>
<text class="tn" x="338.12" y="522.9" textLength="8.15" lengthAdjust="spacingAndGlyphs">5</text>
<text class="tn" x="428.43" y="522.9" textLength="8.15" lengthAdjust="spacingAndGlyphs">4</text>
<text class="tn" x="519.15" y="522.9" textLength="16.30" lengthAdjust="spacingAndGlyphs">12</text>
<text class="tn" x="621.92" y="522.9" textLength="8.15" lengthAdjust="spacingAndGlyphs">5</text>
<text class="tb" x="37.0" y="542.2" textLength="45.8" lengthAdjust="spacingAndGlyphs">Density</text>
<text class="tn" x="161.00" y="542.2" textLength="52.60" lengthAdjust="spacingAndGlyphs">2.68e–2</text>
<text class="tn" x="234.50" y="542.2" textLength="52.60" lengthAdjust="spacingAndGlyphs">2.68e–2</text>
<text class="tn" x="315.90" y="542.2" textLength="52.60" lengthAdjust="spacingAndGlyphs">3.33e–3</text>
<text class="tn" x="406.20" y="542.2" textLength="52.60" lengthAdjust="spacingAndGlyphs">3.33e–3</text>
<text class="tn" x="501.00" y="542.2" textLength="52.60" lengthAdjust="spacingAndGlyphs">2.67e–4</text>
<text class="tn" x="599.70" y="542.2" textLength="52.60" lengthAdjust="spacingAndGlyphs">2.67e–4</text>
<text class="tb" x="166.30" y="436.7" textLength="42.0" lengthAdjust="spacingAndGlyphs">LesMis</text>
<text class="tb" x="236.65" y="436.7" textLength="41.4" lengthAdjust="spacingAndGlyphs">LesMis</text><text class="tb" x="279.35" y="436.9">*</text>
<text class="tb" x="309.80" y="436.7" textLength="64.8" lengthAdjust="spacingAndGlyphs">Diseasome</text>
<text class="tb" x="396.50" y="436.7" textLength="65.1" lengthAdjust="spacingAndGlyphs">Diseasome</text><text class="tb" x="462.90" y="436.9">*</text>
<text class="tb" x="491.20" y="436.7" textLength="72.2" lengthAdjust="spacingAndGlyphs">CompBoard</text>
<text class="tb" x="586.45" y="436.7" textLength="72.2" lengthAdjust="spacingAndGlyphs">CompBoard</text><text class="tb" x="659.95" y="436.9">*</text>
</svg>
</body></html>
